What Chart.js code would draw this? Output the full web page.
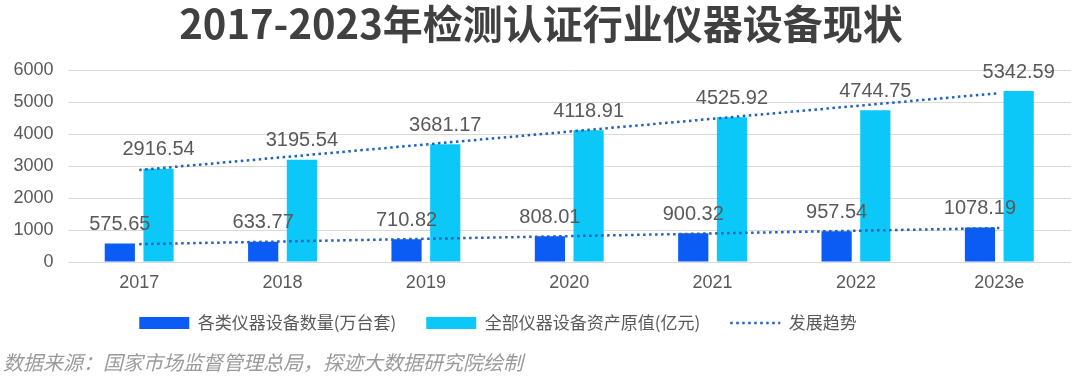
<!DOCTYPE html>
<html><head><meta charset="utf-8">
<script src="https://cdn.jsdelivr.net/npm/chart.js@4/dist/chart.umd.min.js"></script>
<style>html,body{margin:0;padding:0;background:#fff;}#wrap{width:1080px;height:390px;}</style>
</head><body><div id="wrap"><canvas id="c" width="1080" height="390"></canvas></div>
<script>
const categories = ['2017','2018','2019','2020','2021','2022','2023e'];
const instrumentCount = [575.65,633.77,710.82,808.01,900.32,957.54,1078.19];
const assetValue = [2916.54,3195.54,3681.17,4118.91,4525.92,4744.75,5342.59];
const countTrend = [558,null,null,null,null,null,1060];
const valueTrend = [2873,null,null,null,null,null,5277];
const yTicks = [0,1000,2000,3000,4000,5000,6000];
const seriesNames = ['各类仪器设备数量(万台套)','全部仪器设备资产原值(亿元)','发展趋势'];
const titleText = '2017-2023年检测认证行业仪器设备现状';
const sourceText = '数据来源：国家市场监督管理总局，探迹大数据研究院绘制';

const DARK = '#0A5CF5', CYAN = '#0CC8F8', TREND = '#1F5FBF', TXT = '#595959';
const LATIN = '"Liberation Sans", Arial, sans-serif';
const CJK = '"Noto Sans CJK SC", "Noto Sans", sans-serif';

const extras = {
  id: 'extras',
  afterLayout(chart) {
    const lg = chart.legend;
    if (lg) { lg.left -= 44; lg.right -= 44; lg.top -= 9.5; lg.bottom -= 9.5; }
  },
  afterDatasetsDraw(chart) {
    const ctx = chart.ctx;
    ctx.save();
    ctx.font = '20px ' + LATIN;
    ctx.fillStyle = TXT;
    ctx.textAlign = 'center';
    ctx.textBaseline = 'bottom';
    [0,1].forEach(di => {
      const meta = chart.getDatasetMeta(di);
      const data = chart.data.datasets[di].data;
      meta.data.forEach((el, i) => {
        ctx.fillText(String(data[i]), el.x, el.y - 9);
      });
    });
    ctx.restore();
  },
  afterDraw(chart) {
    const ctx = chart.ctx;
    ctx.save();
    ctx.font = 'bold 40px ' + CJK;
    ctx.fillStyle = '#404040';
    ctx.textAlign = 'center';
    ctx.textBaseline = 'middle';
    ctx.fillText(titleText, 541, 24);
    ctx.font = 'italic 20px ' + CJK;
    ctx.fillStyle = '#9a9a9a';
    ctx.textAlign = 'left';
    ctx.fillText(sourceText, 3, 362);
    ctx.restore();
  }
};

new Chart(document.getElementById('c'), {
  data: {
    labels: categories,
    datasets: [
      { type: 'bar', label: seriesNames[0], data: instrumentCount, backgroundColor: DARK, borderWidth: 0,
        categoryPercentage: 0.54, barPercentage: 0.78, order: 2, pointStyle: 'rect' },
      { type: 'bar', label: seriesNames[1], data: assetValue, backgroundColor: CYAN, borderWidth: 0,
        categoryPercentage: 0.54, barPercentage: 0.78, order: 2, pointStyle: 'rect' },
      { type: 'line', label: seriesNames[2], data: countTrend, borderColor: TREND, backgroundColor: TREND,
        borderWidth: 2.5, borderDash: [2.5, 3.5], pointRadius: 0, spanGaps: true, fill: false, order: 0, pointStyle: 'line' },
      { type: 'line', label: seriesNames[2] + '2', data: valueTrend, borderColor: TREND, backgroundColor: TREND,
        borderWidth: 2.5, borderDash: [2.5, 3.5], pointRadius: 0, spanGaps: true, fill: false, order: 0, pointStyle: 'line' }
    ]
  },
  options: {
    responsive: false,
    animation: false,
    devicePixelRatio: 1,
    layout: { padding: { top: 70, left: 13, right: 9, bottom: 39 } },
    plugins: {
      title: { display: false },
      tooltip: { enabled: false },
      legend: {
        position: 'bottom',
        labels: {
          usePointStyle: true,
          pointStyleWidth: 50,
          boxHeight: 12,
          padding: 30,
          color: TXT,
          font: { family: CJK, size: 17 },
          filter: (item) => item.datasetIndex !== 3,
          sort: (a, b) => a.datasetIndex - b.datasetIndex,
          generateLabels: (chart) => {
            const items = Chart.defaults.plugins.legend.labels.generateLabels(chart);
            items.forEach(it => {
              const ds = chart.data.datasets[it.datasetIndex];
              if (ds.type === 'line') {
                it.lineDash = ds.borderDash;
                it.lineWidth = ds.borderWidth;
                it.strokeStyle = ds.borderColor;
                it.pointStyle = 'line';
              } else {
                it.lineWidth = 0;
                it.strokeStyle = ds.backgroundColor;
                it.fillStyle = ds.backgroundColor;
                it.pointStyle = 'rect';
              }
            });
            return items;
          }
        }
      }
    },
    scales: {
      x: {
        grid: { display: false, drawTicks: false },
        border: { display: false },
        ticks: { color: TXT, font: { family: LATIN, size: 18 }, padding: 10 },
        afterFit: (axis) => { axis.height = 32; }
      },
      y: {
        min: yTicks[0], max: yTicks[yTicks.length - 1],
        afterBuildTicks: (axis) => { axis.ticks = yTicks.map(v => ({ value: v })); },
        afterFit: (axis) => { axis.width = 54.5; },
        grid: { color: '#d9d9d9', drawTicks: false, lineWidth: 1 },
        border: { display: false },
        ticks: { color: TXT, font: { family: LATIN, size: 18 }, padding: 14, callback: (v) => String(v) }
      }
    }
  },
  plugins: [extras]
});
</script></body></html>
